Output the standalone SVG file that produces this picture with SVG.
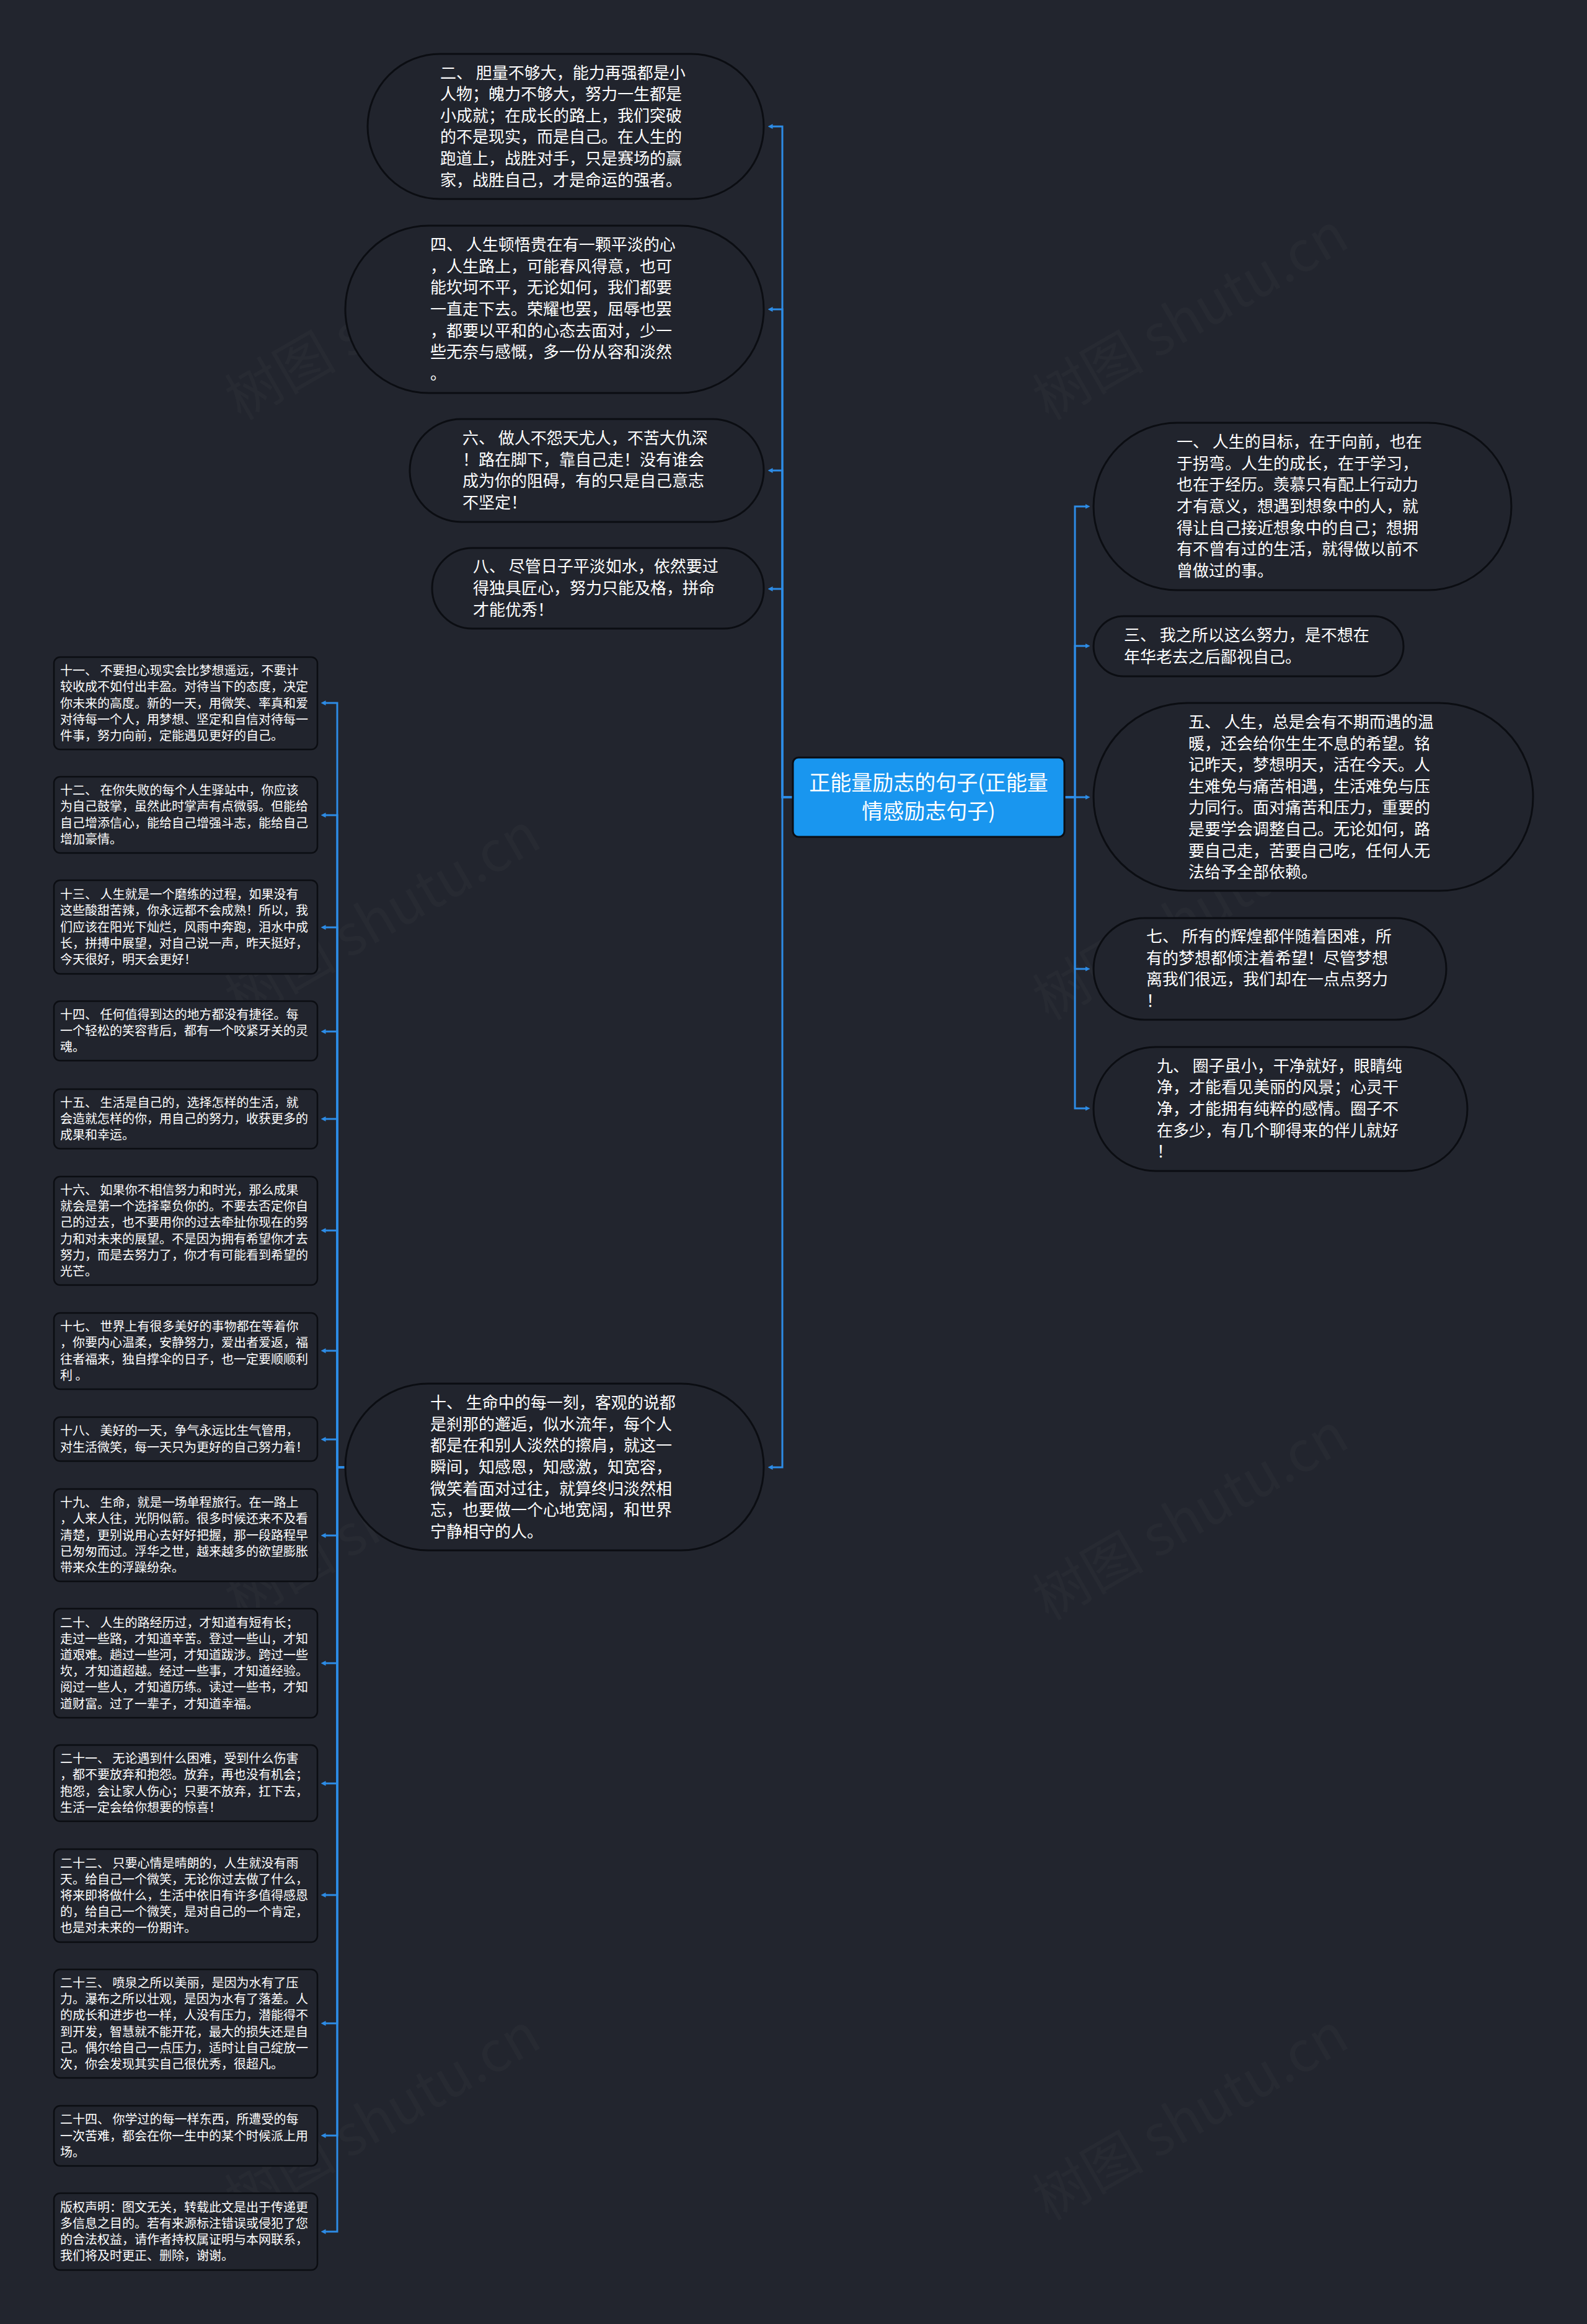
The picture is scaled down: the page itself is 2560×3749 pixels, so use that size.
<svg xmlns="http://www.w3.org/2000/svg" width="2560" height="3749" viewBox="0 0 2560 3749">
<defs>
<style>
.bg{fill:#22252e}
.pill{fill:#21242d;stroke:#0b0d12;stroke-width:3}
.box{fill:#21242d;stroke:#0b0d12;stroke-width:2.5}
.root{fill:#1996ef;stroke:#0b0d12;stroke-width:3}
.t{font-family:"Noto Sans CJK SC","Noto Sans",sans-serif;fill:#ffffff}
.big{font-size:26px}
.sm{font-size:20px}
.rt{font-size:34px;text-anchor:middle}
.wm{font-family:"Noto Sans CJK SC","Noto Sans",sans-serif;font-size:90px;fill:#ffffff;fill-opacity:0.022}
.c{fill:none;stroke:#2d8ce6;stroke-width:3;marker-end:url(#arr)}
</style>
<marker id="arr" viewBox="0 0 8 8" refX="0.5" refY="4" markerWidth="8" markerHeight="8" markerUnits="userSpaceOnUse" orient="auto">
<path d="M0,0 L8,4 L0,8 z" fill="#2d8ce6"/>
</marker>
</defs>
<rect class="bg" x="0" y="0" width="2560" height="3749"/>

<g id="watermarks">
<text class="wm" transform="translate(633,538) rotate(-30)" text-anchor="middle">树图 shutu.cn</text>
<text class="wm" transform="translate(1936,538) rotate(-30)" text-anchor="middle">树图 shutu.cn</text>
<text class="wm" transform="translate(633,1506) rotate(-30)" text-anchor="middle">树图 shutu.cn</text>
<text class="wm" transform="translate(1936,1506) rotate(-30)" text-anchor="middle">树图 shutu.cn</text>
<text class="wm" transform="translate(633,2474) rotate(-30)" text-anchor="middle">树图 shutu.cn</text>
<text class="wm" transform="translate(1936,2474) rotate(-30)" text-anchor="middle">树图 shutu.cn</text>
<text class="wm" transform="translate(633,3442) rotate(-30)" text-anchor="middle">树图 shutu.cn</text>
<text class="wm" transform="translate(1936,3442) rotate(-30)" text-anchor="middle">树图 shutu.cn</text>
</g>

<g id="connectors">
<path class="c" d="M1717,1286 H1734 V817 H1751"/>
<path class="c" d="M1717,1286 H1734 V1042 H1751"/>
<path class="c" d="M1717,1286 H1751"/>
<path class="c" d="M1717,1286 H1734 V1563 H1751"/>
<path class="c" d="M1717,1286 H1734 V1788 H1751"/>
<path class="c" d="M1279,1286 H1262 V204 H1246"/>
<path class="c" d="M1279,1286 H1262 V499 H1246"/>
<path class="c" d="M1279,1286 H1262 V759 H1246"/>
<path class="c" d="M1279,1286 H1262 V950 H1246"/>
<path class="c" d="M1279,1286 H1262 V2367 H1246"/>
<path class="c" d="M557,2367 H544 V1134 H525"/>
<path class="c" d="M557,2367 H544 V1315 H525"/>
<path class="c" d="M557,2367 H544 V1496 H525"/>
<path class="c" d="M557,2367 H544 V1664 H525"/>
<path class="c" d="M557,2367 H544 V1805 H525"/>
<path class="c" d="M557,2367 H544 V1985 H525"/>
<path class="c" d="M557,2367 H544 V2179 H525"/>
<path class="c" d="M557,2367 H544 V2322 H525"/>
<path class="c" d="M557,2367 H544 V2477 H525"/>
<path class="c" d="M557,2367 H544 V2683 H525"/>
<path class="c" d="M557,2367 H544 V2877 H525"/>
<path class="c" d="M557,2367 H544 V3057 H525"/>
<path class="c" d="M557,2367 H544 V3264 H525"/>
<path class="c" d="M557,2367 H544 V3445 H525"/>
<path class="c" d="M557,2367 H544 V3600 H525"/>
</g>

<g id="root">
<rect class="root" x="1279" y="1222" width="438" height="128" rx="9"/>
<text class="t rt"><tspan x="1498" y="1275">正能量励志的句子(正能量</tspan><tspan x="1498" y="1321">情感励志句子)</tspan></text>
</g>

<g id="n2">
<rect class="pill" x="593" y="87" width="639" height="234" rx="117"/>
<text class="t big"><tspan x="710" y="126.5">二、 胆量不够大，能力再强都是小</tspan><tspan x="710" dy="34.6">人物；魄力不够大，努力一生都是</tspan><tspan x="710" dy="34.6">小成就；在成长的路上，我们突破</tspan><tspan x="710" dy="34.6">的不是现实，而是自己。在人生的</tspan><tspan x="710" dy="34.6">跑道上，战胜对手，只是赛场的赢</tspan><tspan x="710" dy="34.6">家，战胜自己，才是命运的强者。</tspan></text>
</g>
<g id="n4">
<rect class="pill" x="557" y="364" width="675" height="270" rx="135"/>
<text class="t big"><tspan x="694" y="404.2">四、 人生顿悟贵在有一颗平淡的心</tspan><tspan x="694" dy="34.6">，人生路上，可能春风得意，也可</tspan><tspan x="694" dy="34.6">能坎坷不平，无论如何，我们都要</tspan><tspan x="694" dy="34.6">一直走下去。荣耀也罢，屈辱也罢</tspan><tspan x="694" dy="34.6">，都要以平和的心态去面对，少一</tspan><tspan x="694" dy="34.6">些无奈与感慨，多一份从容和淡然</tspan><tspan x="694" dy="34.6">。</tspan></text>
</g>
<g id="n6">
<rect class="pill" x="661" y="676" width="571" height="166" rx="83"/>
<text class="t big"><tspan x="746" y="716.1">六、 做人不怨天尤人，不苦大仇深</tspan><tspan x="746" dy="34.6">！路在脚下，靠自己走！没有谁会</tspan><tspan x="746" dy="34.6">成为你的阻碍，有的只是自己意志</tspan><tspan x="746" dy="34.6">不坚定！</tspan></text>
</g>
<g id="n8">
<rect class="pill" x="697" y="884" width="535" height="130" rx="65"/>
<text class="t big"><tspan x="763" y="923.4">八、 尽管日子平淡如水，依然要过</tspan><tspan x="763" dy="34.6">得独具匠心，努力只能及格，拼命</tspan><tspan x="763" dy="34.6">才能优秀！</tspan></text>
</g>
<g id="n10">
<rect class="pill" x="557" y="2232" width="675" height="269" rx="134"/>
<text class="t big"><tspan x="694" y="2272.2">十、 生命中的每一刻，客观的说都</tspan><tspan x="694" dy="34.6">是刹那的邂逅，似水流年，每个人</tspan><tspan x="694" dy="34.6">都是在和别人淡然的擦肩，就这一</tspan><tspan x="694" dy="34.6">瞬间，知感恩，知感激，知宽容，</tspan><tspan x="694" dy="34.6">微笑着面对过往，就算终归淡然相</tspan><tspan x="694" dy="34.6">忘，也要做一个心地宽阔，和世界</tspan><tspan x="694" dy="34.6">宁静相守的人。</tspan></text>
</g>

<g id="n1">
<rect class="pill" x="1764" y="682" width="674" height="270" rx="135"/>
<text class="t big"><tspan x="1898" y="722.2">一、 人生的目标，在于向前，也在</tspan><tspan x="1898" dy="34.6">于拐弯。人生的成长，在于学习，</tspan><tspan x="1898" dy="34.6">也在于经历。羡慕只有配上行动力</tspan><tspan x="1898" dy="34.6">才有意义，想遇到想象中的人，就</tspan><tspan x="1898" dy="34.6">得让自己接近想象中的自己；想拥</tspan><tspan x="1898" dy="34.6">有不曾有过的生活，就得做以前不</tspan><tspan x="1898" dy="34.6">曾做过的事。</tspan></text>
</g>
<g id="n3">
<rect class="pill" x="1764" y="994" width="500" height="97" rx="48.5"/>
<text class="t big"><tspan x="1813" y="1034.2">三、 我之所以这么努力，是不想在</tspan><tspan x="1813" dy="34.6">年华老去之后鄙视自己。</tspan></text>
</g>
<g id="n5">
<rect class="pill" x="1764" y="1134" width="709" height="303" rx="151.5"/>
<text class="t big"><tspan x="1917" y="1173.9">五、 人生，总是会有不期而遇的温</tspan><tspan x="1917" dy="34.6">暖，还会给你生生不息的希望。铭</tspan><tspan x="1917" dy="34.6">记昨天，梦想明天，活在今天。人</tspan><tspan x="1917" dy="34.6">生难免与痛苦相遇，生活难免与压</tspan><tspan x="1917" dy="34.6">力同行。面对痛苦和压力，重要的</tspan><tspan x="1917" dy="34.6">是要学会调整自己。无论如何，路</tspan><tspan x="1917" dy="34.6">要自己走，苦要自己吃，任何人无</tspan><tspan x="1917" dy="34.6">法给予全部依赖。</tspan></text>
</g>
<g id="n7">
<rect class="pill" x="1764" y="1481" width="569" height="164" rx="82"/>
<text class="t big"><tspan x="1849" y="1520.1">七、 所有的辉煌都伴随着困难，所</tspan><tspan x="1849" dy="34.6">有的梦想都倾注着希望！尽管梦想</tspan><tspan x="1849" dy="34.6">离我们很远，我们却在一点点努力</tspan><tspan x="1849" dy="34.6">！</tspan></text>
</g>
<g id="n9">
<rect class="pill" x="1764" y="1689" width="603" height="200" rx="100"/>
<text class="t big"><tspan x="1866" y="1728.8">九、 圈子虽小，干净就好，眼睛纯</tspan><tspan x="1866" dy="34.6">净，才能看见美丽的风景；心灵干</tspan><tspan x="1866" dy="34.6">净，才能拥有纯粹的感情。圈子不</tspan><tspan x="1866" dy="34.6">在多少，有几个聊得来的伴儿就好</tspan><tspan x="1866" dy="34.6">！</tspan></text>
</g>

<g id="n11">
<rect class="box" x="87" y="1060" width="425" height="149" rx="10"/>
<text class="t sm"><tspan x="97" y="1089.1">十一、 不要担心现实会比梦想遥远，不要计</tspan><tspan x="97" dy="26.2">较收成不如付出丰盈。对待当下的态度，决定</tspan><tspan x="97" dy="26.2">你未来的高度。新的一天，用微笑、率真和爱</tspan><tspan x="97" dy="26.2">对待每一个人，用梦想、坚定和自信对待每一</tspan><tspan x="97" dy="26.2">件事，努力向前，定能遇见更好的自己。</tspan></text>
</g>
<g id="n12">
<rect class="box" x="87" y="1253" width="425" height="123" rx="10"/>
<text class="t sm"><tspan x="97" y="1282.2">十二、 在你失败的每个人生驿站中，你应该</tspan><tspan x="97" dy="26.2">为自己鼓掌，虽然此时掌声有点微弱。但能给</tspan><tspan x="97" dy="26.2">自己增添信心，能给自己增强斗志，能给自己</tspan><tspan x="97" dy="26.2">增加豪情。</tspan></text>
</g>
<g id="n13">
<rect class="box" x="87" y="1420" width="425" height="151" rx="10"/>
<text class="t sm"><tspan x="97" y="1450.1">十三、 人生就是一个磨练的过程，如果没有</tspan><tspan x="97" dy="26.2">这些酸甜苦辣，你永远都不会成熟！所以，我</tspan><tspan x="97" dy="26.2">们应该在阳光下灿烂，风雨中奔跑，泪水中成</tspan><tspan x="97" dy="26.2">长，拼搏中展望，对自己说一声，昨天挺好，</tspan><tspan x="97" dy="26.2">今天很好，明天会更好！</tspan></text>
</g>
<g id="n14">
<rect class="box" x="87" y="1615" width="425" height="96" rx="10"/>
<text class="t sm"><tspan x="97" y="1643.8">十四、 任何值得到达的地方都没有捷径。每</tspan><tspan x="97" dy="26.2">一个轻松的笑容背后，都有一个咬紧牙关的灵</tspan><tspan x="97" dy="26.2">魂。</tspan></text>
</g>
<g id="n15">
<rect class="box" x="87" y="1757" width="425" height="96" rx="10"/>
<text class="t sm"><tspan x="97" y="1785.8">十五、 生活是自己的，选择怎样的生活，就</tspan><tspan x="97" dy="26.2">会造就怎样的你，用自己的努力，收获更多的</tspan><tspan x="97" dy="26.2">成果和幸运。</tspan></text>
</g>
<g id="n16">
<rect class="box" x="87" y="1898" width="425" height="175" rx="10"/>
<text class="t sm"><tspan x="97" y="1927">十六、 如果你不相信努力和时光，那么成果</tspan><tspan x="97" dy="26.2">就会是第一个选择辜负你的。不要去否定你自</tspan><tspan x="97" dy="26.2">己的过去，也不要用你的过去牵扯你现在的努</tspan><tspan x="97" dy="26.2">力和对未来的展望。不是因为拥有希望你才去</tspan><tspan x="97" dy="26.2">努力，而是去努力了，你才有可能看到希望的</tspan><tspan x="97" dy="26.2">光芒。</tspan></text>
</g>
<g id="n17">
<rect class="box" x="87" y="2118" width="425" height="123" rx="10"/>
<text class="t sm"><tspan x="97" y="2147.2">十七、 世界上有很多美好的事物都在等着你</tspan><tspan x="97" dy="26.2">，你要内心温柔，安静努力，爱出者爱返，福</tspan><tspan x="97" dy="26.2">往者福来，独自撑伞的日子，也一定要顺顺利</tspan><tspan x="97" dy="26.2">利 。</tspan></text>
</g>
<g id="n18">
<rect class="box" x="87" y="2286" width="425" height="71" rx="10"/>
<text class="t sm"><tspan x="97" y="2315.4">十八、 美好的一天，争气永远比生气管用，</tspan><tspan x="97" dy="26.2">对生活微笑，每一天只为更好的自己努力着！</tspan></text>
</g>
<g id="n19">
<rect class="box" x="87" y="2402" width="425" height="149" rx="10"/>
<text class="t sm"><tspan x="97" y="2431.1">十九、 生命，就是一场单程旅行。在一路上</tspan><tspan x="97" dy="26.2">，人来人往，光阴似箭。很多时候还来不及看</tspan><tspan x="97" dy="26.2">清楚，更别说用心去好好把握，那一段路程早</tspan><tspan x="97" dy="26.2">已匆匆而过。浮华之世，越来越多的欲望膨胀</tspan><tspan x="97" dy="26.2">带来众生的浮躁纷杂。</tspan></text>
</g>
<g id="n20">
<rect class="box" x="87" y="2595" width="425" height="176" rx="10"/>
<text class="t sm"><tspan x="97" y="2624.5">二十、 人生的路经历过，才知道有短有长；</tspan><tspan x="97" dy="26.2">走过一些路，才知道辛苦。登过一些山，才知</tspan><tspan x="97" dy="26.2">道艰难。趟过一些河，才知道跋涉。跨过一些</tspan><tspan x="97" dy="26.2">坎，才知道超越。经过一些事，才知道经验。</tspan><tspan x="97" dy="26.2">阅过一些人，才知道历练。读过一些书，才知</tspan><tspan x="97" dy="26.2">道财富。过了一辈子，才知道幸福。</tspan></text>
</g>
<g id="n21">
<rect class="box" x="87" y="2815" width="425" height="123" rx="10"/>
<text class="t sm"><tspan x="97" y="2844.2">二十一、 无论遇到什么困难，受到什么伤害</tspan><tspan x="97" dy="26.2">，都不要放弃和抱怨。放弃，再也没有机会；</tspan><tspan x="97" dy="26.2">抱怨，会让家人伤心；只要不放弃，扛下去，</tspan><tspan x="97" dy="26.2">生活一定会给你想要的惊喜！</tspan></text>
</g>
<g id="n22">
<rect class="box" x="87" y="2983" width="425" height="150" rx="10"/>
<text class="t sm"><tspan x="97" y="3012.6">二十二、 只要心情是晴朗的，人生就没有雨</tspan><tspan x="97" dy="26.2">天。给自己一个微笑，无论你过去做了什么，</tspan><tspan x="97" dy="26.2">将来即将做什么，生活中依旧有许多值得感恩</tspan><tspan x="97" dy="26.2">的，给自己一个微笑，是对自己的一个肯定，</tspan><tspan x="97" dy="26.2">也是对未来的一份期许。</tspan></text>
</g>
<g id="n23">
<rect class="box" x="87" y="3177" width="425" height="175" rx="10"/>
<text class="t sm"><tspan x="97" y="3206">二十三、 喷泉之所以美丽，是因为水有了压</tspan><tspan x="97" dy="26.2">力。瀑布之所以壮观，是因为水有了落差。人</tspan><tspan x="97" dy="26.2">的成长和进步也一样，人没有压力，潜能得不</tspan><tspan x="97" dy="26.2">到开发，智慧就不能开花，最大的损失还是自</tspan><tspan x="97" dy="26.2">己。偶尔给自己一点压力，适时让自己绽放一</tspan><tspan x="97" dy="26.2">次，你会发现其实自己很优秀，很超凡。</tspan></text>
</g>
<g id="n24">
<rect class="box" x="87" y="3397" width="425" height="97" rx="10"/>
<text class="t sm"><tspan x="97" y="3426.3">二十四、 你学过的每一样东西，所遭受的每</tspan><tspan x="97" dy="26.2">一次苦难，都会在你一生中的某个时候派上用</tspan><tspan x="97" dy="26.2">场。</tspan></text>
</g>
<g id="copyright">
<rect class="box" x="87" y="3538" width="425" height="124" rx="10"/>
<text class="t sm"><tspan x="97" y="3567.7">版权声明：图文无关，转载此文是出于传递更</tspan><tspan x="97" dy="26.2">多信息之目的。若有来源标注错误或侵犯了您</tspan><tspan x="97" dy="26.2">的合法权益，请作者持权属证明与本网联系，</tspan><tspan x="97" dy="26.2">我们将及时更正、删除，谢谢。</tspan></text>
</g>
</svg>
